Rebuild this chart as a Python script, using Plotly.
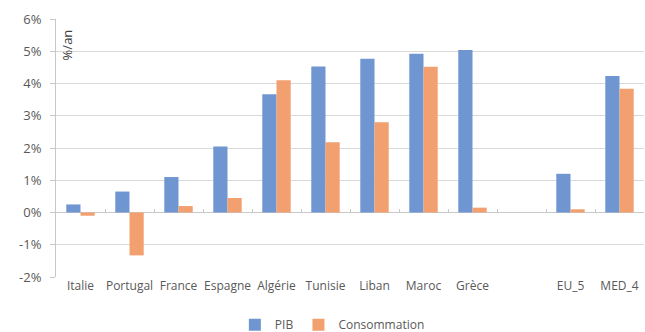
import plotly.graph_objects as go

# Croissance annuelle moyenne : PIB vs consommation
pays = ["Italie", "Portugal", "France", "Espagne", "Algérie", "Tunisie",
        "Liban", "Maroc", "Grèce", " ", "EU_5", "MED_4"]
pib = [0.25, 0.65, 1.10, 2.05, 3.67, 4.53, 4.77, 4.92, 5.04, None, 1.20, 4.23]
consommation = [-0.10, -1.33, 0.20, 0.45, 4.10, 2.18, 2.80, 4.52, 0.15, None, 0.10, 3.84]

y_ticks = [-2, -1, 0, 1, 2, 3, 4, 5, 6]
y_labels = [f"{v}%" for v in y_ticks]
y_min, y_max = -2, 6

BLUE = "#7096D2"
ORANGE = "#F2A070"
GRID = "#D9D9D9"
AXIS = "#C8C8C8"
TEXT = "#595959"
FONT = "Open Sans"

fig = go.Figure()
fig.add_trace(go.Bar(x=pays, y=pib, name="PIB", marker_color=BLUE,
                     marker_line_width=0))
fig.add_trace(go.Bar(x=pays, y=consommation, name="Consommation",
                     marker_color=ORANGE, marker_line_width=0))
# invisible trace carrying the category axis drawn along the 0 % line
fig.add_trace(go.Scatter(x=pays, y=[0] * len(pays), xaxis="x2", mode="none",
                         showlegend=False, hoverinfo="skip"))

fig.update_layout(
    width=645, height=332,
    margin=dict(l=56, r=1, t=19, b=55, autoexpand=False),
    paper_bgcolor="white", plot_bgcolor="white",
    barmode="group", bargap=0.42, bargroupgap=0,
    font=dict(family=FONT, size=12, color=TEXT),
    showlegend=True,
    legend=dict(orientation="h", x=0.47, xanchor="center",
                yref="container", y=0.022, yanchor="middle",
                font=dict(size=12, color=TEXT),
                itemwidth=30, traceorder="normal"),
    xaxis2=dict(
        type="category", categoryarray=pays, range=[-0.5, len(pays) - 0.5],
        overlaying="x", anchor="free",
        position=(0 - y_min) / (y_max - y_min),
        showgrid=False, zeroline=False, showline=False,
        ticks="inside", tickson="boundaries", ticklen=4, tickcolor=AXIS,
        showticklabels=False,
    ),
)

fig.update_xaxes(
    selector=dict(anchor="y"),
    type="category", showgrid=False, zeroline=False,
    showline=False, ticks="outside", ticklen=8, tickcolor="rgba(0,0,0,0)",
    tickfont=dict(size=12, color=TEXT),
)
fig.update_yaxes(
    range=[y_min, y_max], tickvals=y_ticks, ticktext=y_labels,
    showgrid=True, gridcolor=GRID, gridwidth=1,
    zeroline=True, zerolinecolor=AXIS, zerolinewidth=1,
    showline=True, linecolor=AXIS, linewidth=1,
    ticks="outside", ticklen=5, tickcolor=AXIS,
    ticklabelstandoff=6,
    tickfont=dict(size=13, color=TEXT),
)

fig.add_annotation(
    text="%/an", xref="paper", yref="paper", x=0.018, y=0.9,
    textangle=-90, showarrow=False, font=dict(size=13, color="#404040"),
    xanchor="center", yanchor="middle",
)

fig.write_html("out.html")
